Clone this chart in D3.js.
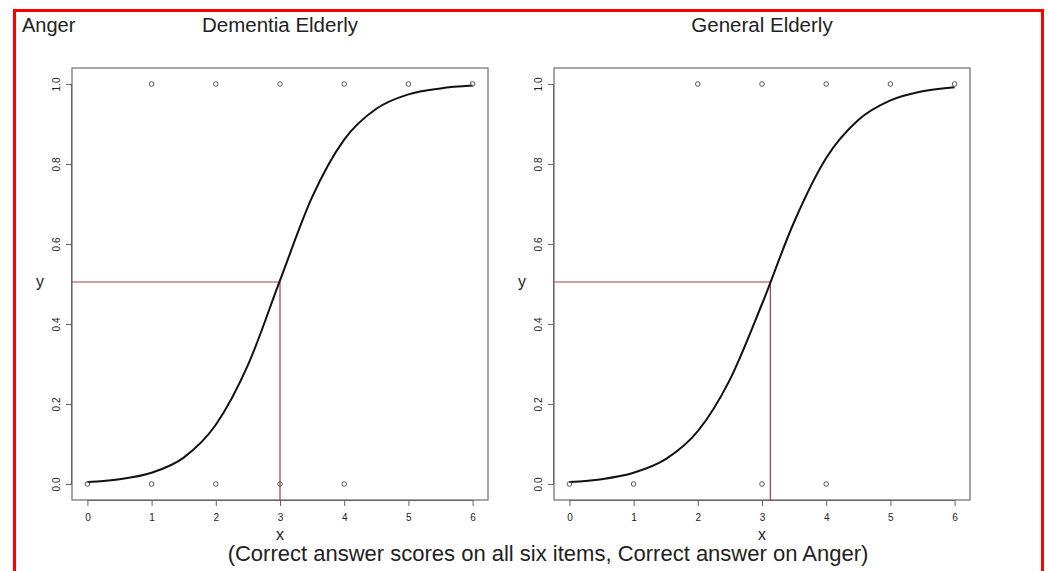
<!DOCTYPE html>
<html>
<head>
<meta charset="utf-8">
<script src="https://cdn.jsdelivr.net/npm/d3@7/dist/d3.min.js"></script>
<style>
	body { margin: 0; background: #fff; }
	text { font-family: "Liberation Sans", Arial, sans-serif; }
</style>
</head>
<body>
<div id="chart"></div>
<script>
// values
var xTicks = [0, 1, 2, 3, 4, 5, 6];
var yTicks = [0, 0.2, 0.4, 0.6, 0.8, 1.0];
var yTickLabels = ["0.0", "0.2", "0.4", "0.6", "0.8", "1.0"];

var titles = ["Dementia Elderly", "General Elderly"];

// observed responses (score on all six items, correct on Anger)
var dementiaX = [0, 1, 2, 3, 4, 1, 2, 3, 4, 5, 6];
var dementiaY = [0, 0, 0, 0, 0, 1, 1, 1, 1, 1, 1];
var generalX = [0, 1, 3, 4, 2, 3, 4, 5, 6];
var generalY = [0, 0, 0, 0, 1, 1, 1, 1, 1];

// fitted curves, read at half steps
var curveX = [0, 0.5, 1, 1.5, 2, 2.5, 3, 3.5, 4, 4.5, 5, 5.5, 6];
var dementiaFit = [0.005, 0.012, 0.028, 0.066, 0.148, 0.297, 0.509, 0.717, 0.861, 0.938, 0.974, 0.989, 0.996];
var generalFit = [0.005, 0.012, 0.028, 0.062, 0.132, 0.261, 0.450, 0.655, 0.815, 0.910, 0.959, 0.982, 0.992];

// 50% point markers
var cutX = [3.0, 3.13];
var cutY = [0.505, 0.505];

var width = 1048, height = 571;

var svg = d3.select("#chart")
	.append("svg")
	.attr("width", width)
	.attr("height", height);

svg.append("rect")
	.attr("x", 14.5)
	.attr("y", 10.5)
	.attr("width", 1028)
	.attr("height", 600)
	.attr("fill", "none")
	.attr("stroke", "#ff0000")
	.attr("stroke-width", 3);

svg.append("text")
	.attr("x", 22)
	.attr("y", 32)
	.attr("font-size", 20)
	.attr("fill", "#222")
	.text("Anger");

svg.append("text")
	.attr("x", 548)
	.attr("y", 561)
	.attr("text-anchor", "middle")
	.attr("font-size", 22)
	.attr("fill", "#222")
	.text("(Correct answer scores on all six items, Correct answer on Anger)");

var panels = [
	{ left: 72, right: 488, xs: dementiaX, ys: dementiaY, fit: dementiaFit },
	{ left: 554, right: 970, xs: generalX, ys: generalY, fit: generalFit }
];

var plotTop = 68, plotBottom = 500;

panels.forEach(function(p, i) {
	var xPositionScale = d3.scaleLinear().domain([-0.24, 6.24]).range([p.left, p.right]);
	var yPositionScale = d3.scaleLinear().domain([-0.04, 1.04]).range([plotBottom, plotTop]);

	var g = svg.append("g").attr("class", "panel");

	g.append("text")
		.attr("x", (p.left + p.right) / 2)
		.attr("y", 32)
		.attr("text-anchor", "middle")
		.attr("font-size", 20.5)
		.attr("fill", "#222")
		.text(titles[i]);

	// plot box
	g.append("rect")
		.attr("x", p.left)
		.attr("y", plotTop)
		.attr("width", p.right - p.left)
		.attr("height", plotBottom - plotTop)
		.attr("fill", "none")
		.attr("stroke", "#777")
		.attr("stroke-width", 1.3);

	var xAxis = d3.axisBottom(xPositionScale)
		.tickValues(xTicks)
		.tickSize(6)
		.tickPadding(8)
		.tickFormat(d3.format("d"));
	var gx = g.append("g")
		.attr("class", "axis x-axis")
		.attr("transform", "translate(0," + plotBottom + ")")
		.call(xAxis);
	gx.select(".domain")
		.attr("d", "M" + xPositionScale(0) + ",0.5H" + xPositionScale(6))
		.attr("stroke", "#666");
	gx.selectAll(".tick line").attr("stroke", "#666");
	gx.selectAll(".tick text")
		.attr("font-size", 10)
		.attr("fill", "#222")
		.attr("font-family", "Liberation Sans, Arial, sans-serif");

	var yAxis = d3.axisLeft(yPositionScale)
		.tickValues(yTicks)
		.tickSize(6)
		.tickFormat(function(d, j) { return yTickLabels[j]; });
	var gy = g.append("g")
		.attr("class", "axis y-axis")
		.attr("transform", "translate(" + p.left + ",0)")
		.call(yAxis);
	gy.select(".domain")
		.attr("d", "M-0.5," + yPositionScale(0) + "V" + yPositionScale(1))
		.attr("stroke", "#666");
	gy.selectAll(".tick line").attr("stroke", "#666");
	gy.selectAll(".tick text")
		.attr("font-size", 10)
		.attr("fill", "#222")
		.attr("font-family", "Liberation Sans, Arial, sans-serif")
		.attr("text-anchor", "middle")
		.attr("x", 0)
		.attr("dy", 0)
		.attr("transform", "translate(-12,0) rotate(-90)");

	g.append("text")
		.attr("x", (p.left + p.right) / 2)
		.attr("y", 540)
		.attr("text-anchor", "middle")
		.attr("font-size", 16)
		.attr("fill", "#222")
		.text("x");

	g.append("text")
		.attr("x", p.left - 32)
		.attr("y", 287)
		.attr("text-anchor", "middle")
		.attr("font-size", 16)
		.attr("fill", "#222")
		.text("y");

	// red guide lines
	g.append("path")
		.attr("d", "M" + p.left + "," + yPositionScale(cutY[i]) +
			"H" + xPositionScale(cutX[i]) + "V" + plotBottom)
		.attr("fill", "none")
		.attr("stroke", "#b03a3a")
		.attr("stroke-width", 1.2);

	var line = d3.line()
		.x(function(d) { return xPositionScale(d[0]); })
		.y(function(d) { return yPositionScale(d[1]); })
		.curve(d3.curveMonotoneX);

	g.append("path")
		.datum(curveX.map(function(x, j) { return [x, p.fit[j]]; }))
		.attr("d", line)
		.attr("fill", "none")
		.attr("stroke", "#111")
		.attr("stroke-width", 2);

	g.selectAll(".pt")
		.data(p.xs.map(function(x, j) { return [x, p.ys[j]]; }))
		.enter()
		.append("circle")
		.attr("class", "pt")
		.attr("cx", function(d) { return xPositionScale(d[0]); })
		.attr("cy", function(d) { return yPositionScale(d[1]); })
		.attr("r", 2.3)
		.attr("fill", "none")
		.attr("stroke", "#555")
		.attr("stroke-width", 1);
});
</script>
</body>
</html>
